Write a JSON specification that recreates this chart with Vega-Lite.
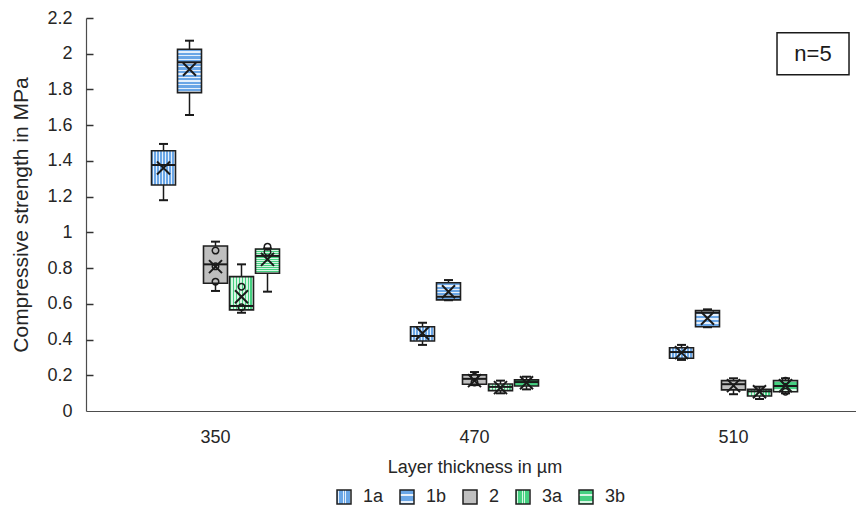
{
  "$schema": "https://vega.github.io/schema/vega-lite/v6.json",
  "width": 770,
  "height": 393,
  "autosize": {"type": "none"},
  "padding": {"left": 86, "top": 18, "right": 0, "bottom": 102},
  "config": {
    "view": {"stroke": null},
    "font": "Liberation Sans",
    "axis": {"labelColor": "#262626", "titleColor": "#262626", "labelFont": "Liberation Sans", "titleFont": "Liberation Sans", "titleFontWeight": "normal", "domainColor": "#4d4d4d", "domainWidth": 1.2, "tickColor": "#333333", "tickWidth": 1.5},
    "legend": {"labelColor": "#262626", "labelFont": "Liberation Sans"}
  },
  "resolve": {"axis": {"y": "independent"}},
  "datasets": {
    "stats": [
      {"thickness": "350", "series": "1a", "min": 1.18, "q1": 1.265, "median": 1.377, "q3": 1.457, "max": 1.495, "mean": 1.36},
      {"thickness": "350", "series": "1b", "min": 1.657, "q1": 1.782, "median": 1.952, "q3": 2.025, "max": 2.073, "mean": 1.913},
      {"thickness": "350", "series": "2", "min": 0.672, "q1": 0.715, "median": 0.821, "q3": 0.924, "max": 0.948, "mean": 0.808},
      {"thickness": "350", "series": "3a", "min": 0.55, "q1": 0.566, "median": 0.588, "q3": 0.752, "max": 0.821, "mean": 0.64},
      {"thickness": "350", "series": "3b", "min": 0.668, "q1": 0.771, "median": 0.868, "q3": 0.907, "max": 0.91, "mean": 0.849},
      {"thickness": "470", "series": "1a", "min": 0.37, "q1": 0.392, "median": 0.42, "q3": 0.472, "max": 0.494, "mean": 0.435},
      {"thickness": "470", "series": "1b", "min": 0.62, "q1": 0.622, "median": 0.64, "q3": 0.718, "max": 0.733, "mean": 0.668},
      {"thickness": "470", "series": "2", "min": 0.145, "q1": 0.15, "median": 0.18, "q3": 0.202, "max": 0.218, "mean": 0.17},
      {"thickness": "470", "series": "3a", "min": 0.099, "q1": 0.114, "median": 0.135, "q3": 0.151, "max": 0.17, "mean": 0.131},
      {"thickness": "470", "series": "3b", "min": 0.121, "q1": 0.14, "median": 0.162, "q3": 0.174, "max": 0.192, "mean": 0.158},
      {"thickness": "510", "series": "1a", "min": 0.286, "q1": 0.295, "median": 0.33, "q3": 0.354, "max": 0.37, "mean": 0.327},
      {"thickness": "510", "series": "1b", "min": 0.469, "q1": 0.472, "median": 0.55, "q3": 0.562, "max": 0.569, "mean": 0.519},
      {"thickness": "510", "series": "2", "min": 0.094, "q1": 0.118, "median": 0.15, "q3": 0.17, "max": 0.183, "mean": 0.142},
      {"thickness": "510", "series": "3a", "min": 0.067, "q1": 0.084, "median": 0.11, "q3": 0.121, "max": 0.136, "mean": 0.108},
      {"thickness": "510", "series": "3b", "min": 0.099, "q1": 0.108, "median": 0.14, "q3": 0.17, "max": 0.183, "mean": 0.142}
    ],
    "points": [
      {"thickness": "350", "series": "2", "value": 0.898},
      {"thickness": "350", "series": "2", "value": 0.81},
      {"thickness": "350", "series": "2", "value": 0.724},
      {"thickness": "350", "series": "3a", "value": 0.696},
      {"thickness": "350", "series": "3a", "value": 0.581},
      {"thickness": "350", "series": "3b", "value": 0.92},
      {"thickness": "350", "series": "3b", "value": 0.89},
      {"thickness": "470", "series": "2", "value": 0.192},
      {"thickness": "470", "series": "2", "value": 0.16},
      {"thickness": "510", "series": "3b", "value": 0.108},
      {"thickness": "510", "series": "3b", "value": 0.17}
    ],
    "note": [{"thickness": "510", "y": 2.0, "label": "n=5"}]
  },
  "encoding": {
    "x": {
      "field": "thickness",
      "type": "nominal",
      "sort": ["350", "470", "510"],
      "scale": {"range": [0, 777], "paddingInner": 0, "paddingOuter": 0},
      "axis": {"title": "Layer thickness in µm", "labelAngle": 0, "ticks": false, "labelPadding": 17, "labelFontSize": 18, "titleFontSize": 18, "titlePadding": 12}
    }
  },
  "layer": [
    {
      "data": {"name": "stats"},
      "mark": {"type": "rule", "stroke": "#1a1a1a", "strokeWidth": 1.5},
      "encoding": {
        "xOffset": {"field": "series", "type": "nominal", "scale": {"range": [65.5, 193.5], "paddingInner": 0.077, "paddingOuter": 0}},
        "y": {
          "field": "min", "type": "quantitative", "title": "Compressive strength in MPa",
          "scale": {"domain": [0, 2.2], "nice": false, "zero": true},
          "axis": {"orient": "left", "values": [0, 0.2, 0.4, 0.6, 0.8, 1, 1.2, 1.4, 1.6, 1.8, 2, 2.2], "format": "~g", "labelOverlap": false, "grid": false, "ticks": false, "labelPadding": 14, "titlePadding": 15, "labelFontSize": 18, "titleFontSize": 21}
        },
        "y2": {"field": "max"}
      }
    },
    {
      "data": {"name": "stats"},
      "mark": {"type": "tick", "color": "#1a1a1a", "size": 9, "thickness": 2, "opacity": 1},
      "encoding": {
        "xOffset": {"field": "series", "type": "nominal"},
        "y": {"field": "min", "type": "quantitative", "axis": {"orient": "right", "offset": -770, "values": [0.2, 0.4, 0.6, 0.8, 1, 1.2, 1.4, 1.6, 1.8, 2, 2.2], "labels": false, "domain": false, "grid": false, "ticks": true, "tickSize": 7, "title": null}}
      }
    },
    {
      "data": {"name": "stats"},
      "mark": {"type": "tick", "color": "#1a1a1a", "size": 9, "thickness": 2, "opacity": 1},
      "encoding": {
        "xOffset": {"field": "series", "type": "nominal"},
        "y": {"field": "max", "type": "quantitative", "axis": null}
      }
    },
    {
      "data": {"name": "stats"},
      "mark": {"type": "bar", "stroke": "#1f1f1f", "strokeWidth": 1.6, "opacity": 1},
      "encoding": {
        "xOffset": {"field": "series", "type": "nominal"},
        "y": {"field": "q1", "type": "quantitative", "axis": null},
        "y2": {"field": "q3"},
        "fill": {
          "field": "series", "type": "nominal",
          "scale": {"domain": ["1a", "1b", "2", "3a", "3b"], "range": [
            {"expr": "{gradient:'linear',x1:0,y1:0,x2:1,y2:0,stops:[{offset:0,color:'#6aa6e6'},{offset:0.075,color:'#6aa6e6'},{offset:0.075,color:'#e6f0fb'},{offset:0.125,color:'#e6f0fb'},{offset:0.125,color:'#6aa6e6'},{offset:0.2,color:'#6aa6e6'},{offset:0.2,color:'#e6f0fb'},{offset:0.25,color:'#e6f0fb'},{offset:0.25,color:'#6aa6e6'},{offset:0.325,color:'#6aa6e6'},{offset:0.325,color:'#e6f0fb'},{offset:0.375,color:'#e6f0fb'},{offset:0.375,color:'#6aa6e6'},{offset:0.45,color:'#6aa6e6'},{offset:0.45,color:'#e6f0fb'},{offset:0.5,color:'#e6f0fb'},{offset:0.5,color:'#6aa6e6'},{offset:0.575,color:'#6aa6e6'},{offset:0.575,color:'#e6f0fb'},{offset:0.625,color:'#e6f0fb'},{offset:0.625,color:'#6aa6e6'},{offset:0.7,color:'#6aa6e6'},{offset:0.7,color:'#e6f0fb'},{offset:0.75,color:'#e6f0fb'},{offset:0.75,color:'#6aa6e6'},{offset:0.825,color:'#6aa6e6'},{offset:0.825,color:'#e6f0fb'},{offset:0.875,color:'#e6f0fb'},{offset:0.875,color:'#6aa6e6'},{offset:0.95,color:'#6aa6e6'},{offset:0.95,color:'#e6f0fb'},{offset:1,color:'#e6f0fb'}]}"},
            {"expr": "{gradient:'linear',x1:0,y1:0,x2:0,y2:1,stops:[{offset:0,color:'#6aa6e6'},{offset:0.05,color:'#6aa6e6'},{offset:0.05,color:'#e6f0fb'},{offset:0.0833,color:'#e6f0fb'},{offset:0.0833,color:'#6aa6e6'},{offset:0.1333,color:'#6aa6e6'},{offset:0.1333,color:'#e6f0fb'},{offset:0.1667,color:'#e6f0fb'},{offset:0.1667,color:'#6aa6e6'},{offset:0.2167,color:'#6aa6e6'},{offset:0.2167,color:'#e6f0fb'},{offset:0.25,color:'#e6f0fb'},{offset:0.25,color:'#6aa6e6'},{offset:0.3,color:'#6aa6e6'},{offset:0.3,color:'#e6f0fb'},{offset:0.3333,color:'#e6f0fb'},{offset:0.3333,color:'#6aa6e6'},{offset:0.3833,color:'#6aa6e6'},{offset:0.3833,color:'#e6f0fb'},{offset:0.4167,color:'#e6f0fb'},{offset:0.4167,color:'#6aa6e6'},{offset:0.4667,color:'#6aa6e6'},{offset:0.4667,color:'#e6f0fb'},{offset:0.5,color:'#e6f0fb'},{offset:0.5,color:'#6aa6e6'},{offset:0.55,color:'#6aa6e6'},{offset:0.55,color:'#e6f0fb'},{offset:0.5833,color:'#e6f0fb'},{offset:0.5833,color:'#6aa6e6'},{offset:0.6333,color:'#6aa6e6'},{offset:0.6333,color:'#e6f0fb'},{offset:0.6667,color:'#e6f0fb'},{offset:0.6667,color:'#6aa6e6'},{offset:0.7167,color:'#6aa6e6'},{offset:0.7167,color:'#e6f0fb'},{offset:0.75,color:'#e6f0fb'},{offset:0.75,color:'#6aa6e6'},{offset:0.8,color:'#6aa6e6'},{offset:0.8,color:'#e6f0fb'},{offset:0.8333,color:'#e6f0fb'},{offset:0.8333,color:'#6aa6e6'},{offset:0.8833,color:'#6aa6e6'},{offset:0.8833,color:'#e6f0fb'},{offset:0.9167,color:'#e6f0fb'},{offset:0.9167,color:'#6aa6e6'},{offset:0.9667,color:'#6aa6e6'},{offset:0.9667,color:'#e6f0fb'},{offset:1,color:'#e6f0fb'}]}"},
            "#bfbfbf",
            {"expr": "{gradient:'linear',x1:0,y1:0,x2:1,y2:0,stops:[{offset:0,color:'#46d081'},{offset:0.075,color:'#46d081'},{offset:0.075,color:'#d8f6e4'},{offset:0.125,color:'#d8f6e4'},{offset:0.125,color:'#46d081'},{offset:0.2,color:'#46d081'},{offset:0.2,color:'#d8f6e4'},{offset:0.25,color:'#d8f6e4'},{offset:0.25,color:'#46d081'},{offset:0.325,color:'#46d081'},{offset:0.325,color:'#d8f6e4'},{offset:0.375,color:'#d8f6e4'},{offset:0.375,color:'#46d081'},{offset:0.45,color:'#46d081'},{offset:0.45,color:'#d8f6e4'},{offset:0.5,color:'#d8f6e4'},{offset:0.5,color:'#46d081'},{offset:0.575,color:'#46d081'},{offset:0.575,color:'#d8f6e4'},{offset:0.625,color:'#d8f6e4'},{offset:0.625,color:'#46d081'},{offset:0.7,color:'#46d081'},{offset:0.7,color:'#d8f6e4'},{offset:0.75,color:'#d8f6e4'},{offset:0.75,color:'#46d081'},{offset:0.825,color:'#46d081'},{offset:0.825,color:'#d8f6e4'},{offset:0.875,color:'#d8f6e4'},{offset:0.875,color:'#46d081'},{offset:0.95,color:'#46d081'},{offset:0.95,color:'#d8f6e4'},{offset:1,color:'#d8f6e4'}]}"},
            {"expr": "{gradient:'linear',x1:0,y1:0,x2:0,y2:1,stops:[{offset:0,color:'#46d081'},{offset:0.05,color:'#46d081'},{offset:0.05,color:'#d8f6e4'},{offset:0.0833,color:'#d8f6e4'},{offset:0.0833,color:'#46d081'},{offset:0.1333,color:'#46d081'},{offset:0.1333,color:'#d8f6e4'},{offset:0.1667,color:'#d8f6e4'},{offset:0.1667,color:'#46d081'},{offset:0.2167,color:'#46d081'},{offset:0.2167,color:'#d8f6e4'},{offset:0.25,color:'#d8f6e4'},{offset:0.25,color:'#46d081'},{offset:0.3,color:'#46d081'},{offset:0.3,color:'#d8f6e4'},{offset:0.3333,color:'#d8f6e4'},{offset:0.3333,color:'#46d081'},{offset:0.3833,color:'#46d081'},{offset:0.3833,color:'#d8f6e4'},{offset:0.4167,color:'#d8f6e4'},{offset:0.4167,color:'#46d081'},{offset:0.4667,color:'#46d081'},{offset:0.4667,color:'#d8f6e4'},{offset:0.5,color:'#d8f6e4'},{offset:0.5,color:'#46d081'},{offset:0.55,color:'#46d081'},{offset:0.55,color:'#d8f6e4'},{offset:0.5833,color:'#d8f6e4'},{offset:0.5833,color:'#46d081'},{offset:0.6333,color:'#46d081'},{offset:0.6333,color:'#d8f6e4'},{offset:0.6667,color:'#d8f6e4'},{offset:0.6667,color:'#46d081'},{offset:0.7167,color:'#46d081'},{offset:0.7167,color:'#d8f6e4'},{offset:0.75,color:'#d8f6e4'},{offset:0.75,color:'#46d081'},{offset:0.8,color:'#46d081'},{offset:0.8,color:'#d8f6e4'},{offset:0.8333,color:'#d8f6e4'},{offset:0.8333,color:'#46d081'},{offset:0.8833,color:'#46d081'},{offset:0.8833,color:'#d8f6e4'},{offset:0.9167,color:'#d8f6e4'},{offset:0.9167,color:'#46d081'},{offset:0.9667,color:'#46d081'},{offset:0.9667,color:'#d8f6e4'},{offset:1,color:'#d8f6e4'}]}"}
          ]},
          "legend": {"title": null, "orient": "none", "legendX": 249, "legendY": 470, "direction": "horizontal", "symbolType": "square", "symbolSize": 196, "symbolStrokeColor": "#1f1f1f", "symbolStrokeWidth": 1.5, "labelFontSize": 18, "labelOffset": 10, "columnPadding": 13}
        }
      }
    },
    {
      "data": {"name": "stats"},
      "mark": {"type": "tick", "color": "#1a1a1a", "size": 24, "thickness": 2, "opacity": 1},
      "encoding": {
        "xOffset": {"field": "series", "type": "nominal"},
        "y": {"field": "median", "type": "quantitative", "axis": null}
      }
    },
    {
      "data": {"name": "stats"},
      "mark": {"type": "point", "shape": "M-1,-1L1,1M-1,1L1,-1", "size": 169, "filled": false, "stroke": "#1a1a1a", "strokeWidth": 2, "opacity": 1},
      "encoding": {
        "xOffset": {"field": "series", "type": "nominal"},
        "y": {"field": "mean", "type": "quantitative", "axis": null}
      }
    },
    {
      "data": {"name": "points"},
      "mark": {"type": "point", "shape": "circle", "size": 42, "filled": false, "stroke": "#1a1a1a", "strokeWidth": 1.5, "opacity": 1},
      "encoding": {
        "xOffset": {"field": "series", "type": "nominal"},
        "y": {"field": "value", "type": "quantitative", "axis": null}
      }
    },
    {
      "data": {"name": "note"},
      "mark": {"type": "point", "shape": "M-1,-0.583L1,-0.583L1,0.583L-1,0.583Z", "size": 5184, "filled": true, "fill": "white", "stroke": "#1a1a1a", "strokeWidth": 1.5, "opacity": 1},
      "encoding": {
        "x": {"field": "thickness", "type": "nominal", "bandPosition": 0.807},
        "y": {"field": "y", "type": "quantitative", "axis": null}
      }
    },
    {
      "data": {"name": "note"},
      "mark": {"type": "text", "fontSize": 22, "color": "#1a1a1a", "align": "center", "baseline": "middle", "font": "Liberation Sans"},
      "encoding": {
        "x": {"field": "thickness", "type": "nominal", "bandPosition": 0.807},
        "y": {"field": "y", "type": "quantitative", "axis": null},
        "text": {"field": "label"}
      }
    }
  ]
}
